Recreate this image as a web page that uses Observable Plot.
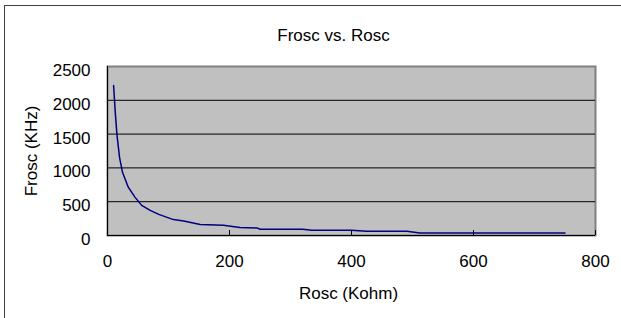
<!DOCTYPE html>
<html><head><meta charset="utf-8">
<script src="https://cdn.jsdelivr.net/npm/d3@7"></script>
<script src="https://cdn.jsdelivr.net/npm/@observablehq/plot@0.6"></script>
<style>
body{margin:0;background:#fff;}
#chart{position:relative;width:621px;height:318px;overflow:hidden;background:#fff;}
#chart::before{content:"";position:absolute;left:4px;top:5px;width:800px;height:500px;border-left:1px solid #404040;border-top:1px solid #404040;}
#chart svg{position:absolute;left:0;top:0;}
</style></head><body><div id="chart"></div>
<script>
const title = "Frosc vs. Rosc";
const xLabel = "Rosc (Kohm)";
const yLabel = "Frosc (KHz)";
const rosc  = [10, 12.6, 15.4, 19.7, 24.6, 34, 45, 56, 70, 84, 108, 125, 152, 190, 217, 245, 250, 320, 335, 400, 425, 491, 512, 750];
const frosc = [2220, 1840, 1500, 1156, 935, 715, 568, 446, 372, 313, 235, 215, 162, 151, 118, 112, 93, 93, 78, 78, 63, 63, 38, 38];
const xTicks = [0, 200, 400, 600, 800];
const yTicks = [0, 500, 1000, 1500, 2000, 2500];
const data = rosc.map((r, i) => ({r, f: frosc[i]}));

const font = "'Liberation Sans', Arial, sans-serif";
const fs = 17;
const plot = Plot.plot({
  width: 621, height: 318,
  marginLeft: 107, marginRight: 26, marginTop: 66, marginBottom: 83,
  style: {fontFamily: font, fontSize: fs + "px", background: "transparent", color: "#000", overflow: "visible"},
  x: {domain: [0, 800], ticks: xTicks},
  y: {domain: [0, 2500], ticks: yTicks},
  marks: [
    Plot.frame({fill: "#c0c0c0", stroke: "#808080", strokeWidth: 2}),
    Plot.gridY(yTicks.filter(v => v > 0 && v < 2500), {stroke: "#000", strokeOpacity: 1}),
    Plot.ruleX([0], {stroke: "#000"}),
    Plot.ruleY([0], {stroke: "#000"}),
    Plot.axisX(xTicks, {tickSize: -5, tickPadding: 24, label: null, stroke: "#000", fontSize: fs, tickFormat: d => String(d)}),
    Plot.axisY(yTicks, {tickSize: 0, tickPadding: 17, dy: 4, label: null, fontSize: fs, tickFormat: d => String(d)}),
    Plot.line(data, {x: "r", y: "f", stroke: "#000080", strokeWidth: 1.5}),
    Plot.text([title], {frameAnchor: "top", dy: -31, dx: -18, textAnchor: "middle", lineAnchor: "middle", fontSize: fs}),
    Plot.text([yLabel], {frameAnchor: "left", dx: -76, rotate: -90, textAnchor: "middle", lineAnchor: "middle", fontSize: fs}),
    Plot.text([xLabel], {frameAnchor: "bottom", dy: 58, dx: -3, textAnchor: "middle", lineAnchor: "middle", fontSize: fs})
  ]
});
document.getElementById("chart").appendChild(plot);
</script>
</body></html>
